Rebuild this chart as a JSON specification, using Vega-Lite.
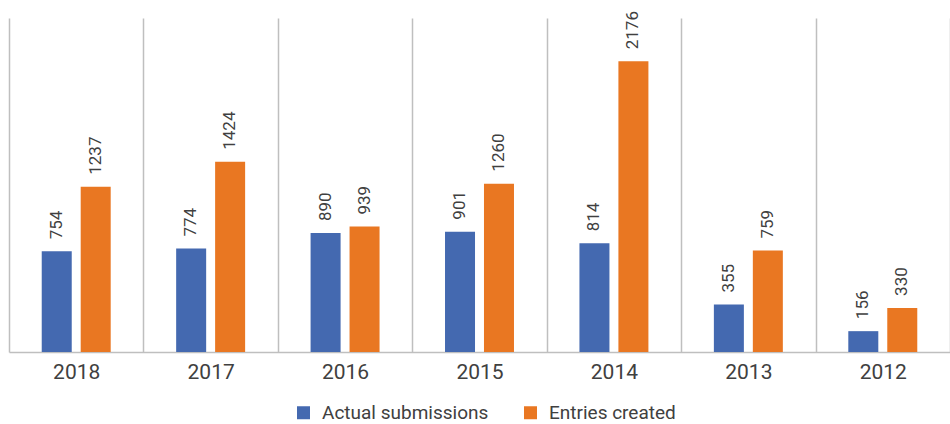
{
  "$schema": "https://vega.github.io/schema/vega-lite/v6.json",
  "autosize": {"type": "none"},
  "padding": {"left": 9, "top": 18, "right": 0, "bottom": 72},
  "width": 941,
  "height": 334,
  "background": "white",
  "config": {
    "view": {"stroke": null},
    "font": "Roboto",
    "text": {"font": "Roboto"}
  },
  "data": {
    "values": [
      {"year": "2018", "series": "Actual submissions", "value": 754},
      {"year": "2018", "series": "Entries created", "value": 1237},
      {"year": "2017", "series": "Actual submissions", "value": 774},
      {"year": "2017", "series": "Entries created", "value": 1424},
      {"year": "2016", "series": "Actual submissions", "value": 890},
      {"year": "2016", "series": "Entries created", "value": 939},
      {"year": "2015", "series": "Actual submissions", "value": 901},
      {"year": "2015", "series": "Entries created", "value": 1260},
      {"year": "2014", "series": "Actual submissions", "value": 814},
      {"year": "2014", "series": "Entries created", "value": 2176},
      {"year": "2013", "series": "Actual submissions", "value": 355},
      {"year": "2013", "series": "Entries created", "value": 759},
      {"year": "2012", "series": "Actual submissions", "value": 156},
      {"year": "2012", "series": "Entries created", "value": 330}
    ]
  },
  "encoding": {
    "x": {
      "field": "year",
      "type": "nominal",
      "sort": ["2018", "2017", "2016", "2015", "2014", "2013", "2012"],
      "scale": {"paddingInner": 0, "paddingOuter": 0},
      "axis": {
        "title": null,
        "labelAngle": 0,
        "grid": true,
        "tickBand": "extent",
        "ticks": false,
        "domainColor": "#BFBFBF",
        "domainWidth": 1.5,
        "gridColor": "#BFBFBF",
        "gridWidth": 1.5,
        "labelFont": "Roboto",
        "labelFontSize": 21,
        "labelColor": "#404040",
        "labelPadding": 9
      }
    },
    "xOffset": {
      "field": "series",
      "type": "nominal",
      "sort": ["Actual submissions", "Entries created"],
      "scale": {"paddingInner": 0.23, "paddingOuter": 0.84}
    },
    "y": {
      "field": "value",
      "type": "quantitative",
      "scale": {"domain": [0, 2500]},
      "axis": null
    }
  },
  "layer": [
    {
      "mark": {"type": "bar"},
      "encoding": {
        "color": {
          "field": "series",
          "type": "nominal",
          "scale": {"domain": ["Actual submissions", "Entries created"], "range": ["#4469B0", "#E97722"]},
          "legend": {
            "title": null,
            "orient": "none",
            "legendX": 285,
            "legendY": 385,
            "direction": "horizontal",
            "symbolType": "square",
            "symbolSize": 169,
            "symbolStrokeWidth": 0,
            "labelFont": "Roboto",
            "labelFontSize": 19,
            "labelColor": "#404040",
            "labelOffset": 9,
            "labelLimit": 300,
            "columnPadding": 32
          }
        }
      }
    },
    {
      "mark": {
        "type": "text",
        "angle": -90,
        "align": "left",
        "baseline": "middle",
        "dx": 12,
        "font": "Roboto",
        "fontSize": 17,
        "color": "#404040"
      },
      "encoding": {
        "text": {"field": "value", "type": "quantitative", "format": "d"}
      }
    }
  ]
}
